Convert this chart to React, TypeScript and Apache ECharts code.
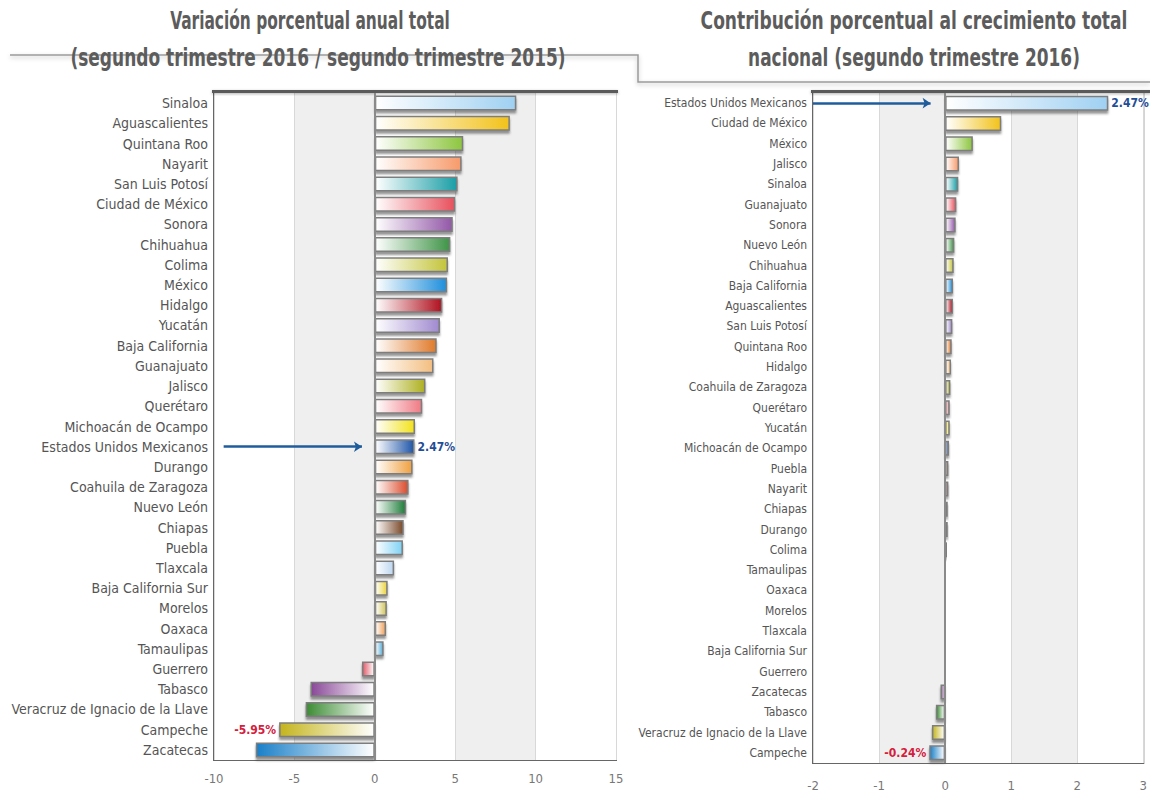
import React, { useEffect, useRef } from "react";
import * as echarts from "echarts";

const leftCategories = [
  "Sinaloa", "Aguascalientes", "Quintana Roo", "Nayarit", "San Luis Potosí", "Ciudad de México",
  "Sonora", "Chihuahua", "Colima", "México", "Hidalgo", "Yucatán", "Baja California", "Guanajuato",
  "Jalisco", "Querétaro", "Michoacán de Ocampo", "Estados Unidos Mexicanos", "Durango",
  "Coahuila de Zaragoza", "Nuevo León", "Chiapas", "Puebla", "Tlaxcala", "Baja California Sur",
  "Morelos", "Oaxaca", "Tamaulipas", "Guerrero", "Tabasco", "Veracruz de Ignacio de la Llave",
  "Campeche", "Zacatecas",
];
const leftValues = [
  8.8, 8.4, 5.5, 5.4, 5.15, 5.0, 4.85, 4.7, 4.55, 4.5, 4.2, 4.05, 3.85, 3.65, 3.15, 2.95, 2.5,
  2.47, 2.35, 2.1, 1.95, 1.8, 1.75, 1.2, 0.8, 0.75, 0.7, 0.55, -0.8, -4.0, -4.3, -5.95, -7.4,
];
const rightCategories = [
  "Estados Unidos Mexicanos", "Ciudad de México", "México", "Jalisco", "Sinaloa", "Guanajuato",
  "Sonora", "Nuevo León", "Chihuahua", "Baja California", "Aguascalientes", "San Luis Potosí",
  "Quintana Roo", "Hidalgo", "Coahuila de Zaragoza", "Querétaro", "Yucatán", "Michoacán de Ocampo",
  "Puebla", "Nayarit", "Chiapas", "Durango", "Colima", "Tamaulipas", "Oaxaca", "Morelos", "Tlaxcala",
  "Baja California Sur", "Guerrero", "Zacatecas", "Tabasco", "Veracruz de Ignacio de la Llave",
  "Campeche",
];
const rightValues = [
  2.47, 0.85, 0.42, 0.21, 0.2, 0.17, 0.16, 0.14, 0.13, 0.12, 0.12, 0.11, 0.1, 0.09, 0.08, 0.07,
  0.07, 0.06, 0.05, 0.05, 0.04, 0.04, 0.03, 0.02, 0.02, 0.02, 0.02, 0.01, -0.02, -0.07, -0.14,
  -0.2, -0.24,
];
const palette = [
  "#9fd0f2", "#f2c21a", "#8dc63f", "#f79a6a", "#1a9ea6", "#e8505c", "#9358a8", "#3f9447",
  "#c3c43a", "#1f8fdc", "#b0121f", "#a08ad0", "#e07a2a", "#f3be80", "#aeb021", "#ef7a84",
  "#f2e21a", "#1f55a8", "#f0a040", "#dc4b2c", "#1e7d3a", "#7a4a2a", "#7fd2f5", "#bcd6f0",
  "#ead33c", "#d2c45a", "#f0a05a", "#55acd8", "#e05a6a", "#8a4898", "#3c8c34", "#c4b41c",
  "#1a7fc8",
];
const highlighted = "Estados Unidos Mexicanos";
const leftLowLabel = "Campeche";
const rightLowLabel = "Campeche";
const leftArrow = [-9.4, -0.8];
const rightArrow = [-2, -0.22];

const leftTitleLines = [
  "Variación porcentual anual total",
  "(segundo trimestre 2016 / segundo trimestre 2015)",
];
const rightTitleLines = [
  "Contribución porcentual al crecimiento total",
  "nacional (segundo trimestre 2016)",
];

const FONT = "DejaVu Sans Condensed";

function makeItems(cats: string[], values: number[], lowName: string) {
  return values.map((v, i) => {
    const c = palette[i];
    const stops =
      v >= 0
        ? [{ offset: 0, color: "#ffffff" }, { offset: 1, color: c }]
        : [{ offset: 0, color: c }, { offset: 1, color: "#ffffff" }];
    const item: any = {
      value: v,
      itemStyle: { color: new echarts.graphic.LinearGradient(0, 0, 1, 0, stops) },
    };
    if (cats[i] === highlighted) {
      item.label = {
        show: true,
        position: "right",
        distance: 3,
        color: "#1f4e96",
        fontWeight: "bold",
        fontSize: 12,
        fontFamily: FONT,
        formatter: (p: any) => p.value.toFixed(2) + "%",
      };
    } else if (cats[i] === lowName) {
      item.label = {
        show: true,
        position: "left",
        distance: 3,
        color: "#d4203c",
        fontWeight: "bold",
        fontSize: 12,
        fontFamily: FONT,
        formatter: (p: any) => p.value.toFixed(2) + "%",
      };
    }
    return item;
  });
}

function xAxisCfg(grid: number, min: number, max: number, interval: number) {
  return {
    gridIndex: grid,
    type: "value",
    min,
    max,
    interval,
    axisLine: { show: false },
    axisTick: { show: false },
    axisLabel: { color: "#777", fontSize: 13, fontFamily: FONT, margin: grid === 0 ? 12 : 16 },
    splitLine: { show: true, lineStyle: { color: "#d8d8d8", width: 1 } },
    splitArea: { show: true, areaStyle: { color: ["#ffffff", "#efefef"] } },
  };
}

function yAxisCfg(grid: number, cats: string[], size: number) {
  return {
    gridIndex: grid,
    type: "category",
    data: cats,
    inverse: true,
    axisLine: { show: false },
    axisTick: { show: false },
    splitLine: { show: false },
    axisLabel: { color: "#555", fontSize: size, fontFamily: FONT, margin: 6, interval: 0 },
  };
}

function zeroLine() {
  return {
    silent: true,
    animation: false,
    symbol: ["none", "none"],
    label: { show: false },
    lineStyle: { type: "solid", color: "#8a8a8a", width: 2 },
    data: [{ xAxis: 0 }],
  };
}

function arrowSeries(grid: number, from: number, to: number) {
  return {
    type: "line",
    xAxisIndex: grid,
    yAxisIndex: grid,
    data: [],
    silent: true,
    markLine: {
      silent: true,
      animation: false,
      symbol: ["none", "arrow"],
      symbolSize: 8,
      label: { show: false },
      lineStyle: { type: "solid", color: "#1f5c9c", width: 2.5 },
      data: [[{ coord: [from, highlighted] }, { coord: [to, highlighted] }]],
    },
  };
}

const barStyle = {
  borderColor: "#7d7d7d",
  borderWidth: 1.5,
  shadowColor: "rgba(60,60,60,0.55)",
  shadowOffsetY: 3,
  shadowOffsetX: 0,
  shadowBlur: 2,
};

function measure(text: string, font: string) {
  const c = document.createElement("canvas");
  const ctx = c.getContext("2d");
  if (!ctx) return text.length * 12;
  ctx.font = font;
  return ctx.measureText(text).width;
}

export default function App() {
  const ref = useRef<HTMLDivElement>(null);
  useEffect(() => {
    if (!ref.current) return;
    const chart = echarts.init(ref.current, undefined, { renderer: "svg" });
    const titleFont = 'bold 25px "DejaVu Sans Condensed"';
    const titleSpecs = [
      { text: leftTitleLines[0], cx: 310, cy: 20, w: 280 },
      { text: leftTitleLines[1], cx: 318, cy: 57, w: 495 },
      { text: rightTitleLines[0], cx: 914, cy: 20, w: 427 },
      { text: rightTitleLines[1], cx: 914, cy: 57, w: 332 },
    ];
    const titleGraphics = titleSpecs.map((t) => ({
      type: "text",
      z: 10,
      x: t.cx,
      y: t.cy,
      scaleX: t.w / measure(t.text, titleFont),
      style: {
        text: t.text,
        font: titleFont,
        fill: "#5c5c5c",
        align: "center",
        verticalAlign: "middle",
        textAlign: "center",
        textVerticalAlign: "middle",
        shadowColor: "rgba(0,0,0,0.3)",
        shadowBlur: 2,
        shadowOffsetY: 1,
      },
    }));
    chart.setOption({
      animation: false,
      backgroundColor: "#ffffff",
      grid: [
        { left: 214, top: 93, width: 402, height: 667, show: true, borderColor: "#666", borderWidth: 2 },
        { left: 813, top: 93, width: 338, height: 670, show: true, borderColor: "#666", borderWidth: 2 },
      ],
      xAxis: [xAxisCfg(0, -10, 15, 5), xAxisCfg(1, -2, 3, 1)],
      yAxis: [yAxisCfg(0, leftCategories, 14), yAxisCfg(1, rightCategories, 12)],
      series: [
        {
          type: "bar",
          xAxisIndex: 0,
          yAxisIndex: 0,
          barWidth: 15,
          itemStyle: barStyle,
          data: makeItems(leftCategories, leftValues, leftLowLabel),
          markLine: zeroLine(),
        },
        {
          type: "bar",
          xAxisIndex: 1,
          yAxisIndex: 1,
          barWidth: 15,
          itemStyle: barStyle,
          data: makeItems(rightCategories, rightValues, rightLowLabel),
          markLine: zeroLine(),
        },
        arrowSeries(0, leftArrow[0], leftArrow[1]),
        arrowSeries(1, rightArrow[0], rightArrow[1]),
      ],
      graphic: [
        {
          type: "polyline",
          z: 1,
          shape: { points: [[10, 55], [638, 55], [638, 82], [1150, 82]] },
          style: {
            stroke: "#9a9a9a",
            lineWidth: 1.5,
            fill: null,
            shadowColor: "rgba(0,0,0,0.25)",
            shadowBlur: 4,
            shadowOffsetY: 2,
          },
        },
        {
          type: "rect",
          z: 3,
          shape: { x: 212, y: 90, width: 406, height: 3 },
          style: { fill: "#5a5a5a", shadowColor: "rgba(0,0,0,0.3)", shadowBlur: 3, shadowOffsetY: 1 },
        },
        {
          type: "rect",
          z: 3,
          shape: { x: 811, y: 90, width: 340, height: 3 },
          style: { fill: "#5a5a5a", shadowColor: "rgba(0,0,0,0.3)", shadowBlur: 3, shadowOffsetY: 1 },
        },
        ...titleGraphics,
      ],
    });
    return () => chart.dispose();
  }, []);
  return (
    <div
      ref={ref}
      style={{ position: "fixed", left: 0, top: 0, width: 1150, height: 792, background: "#fff" }}
    />
  );
}
